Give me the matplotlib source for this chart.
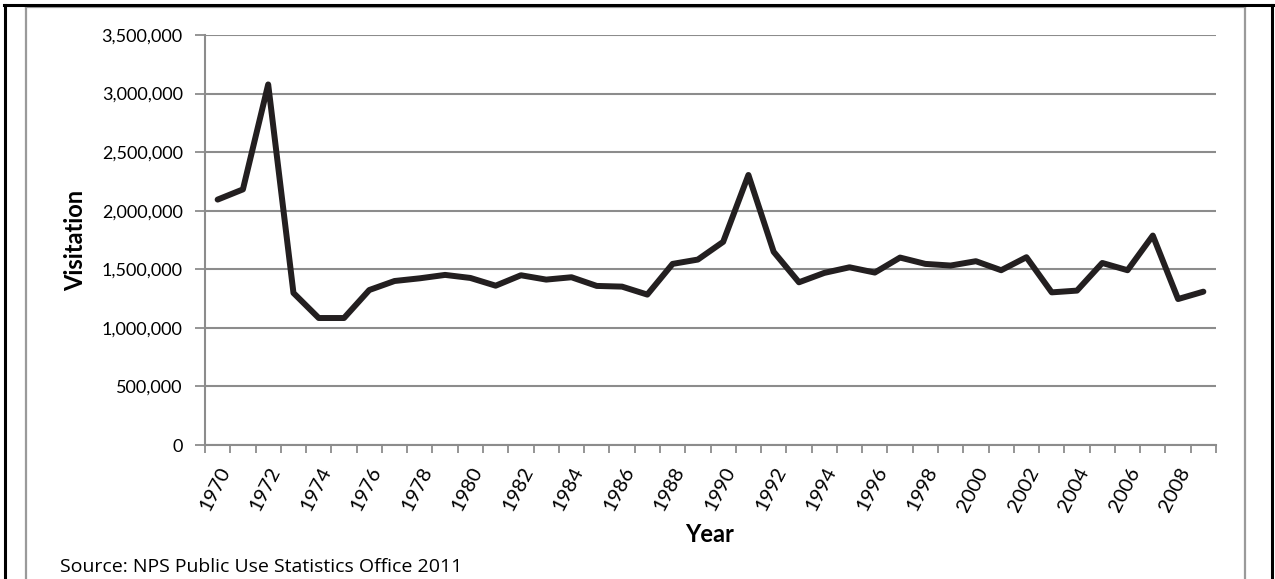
import matplotlib
matplotlib.use("Agg")
import matplotlib.pyplot as plt
from matplotlib.ticker import FuncFormatter, FixedLocator
from matplotlib.lines import Line2D

years = list(range(1970, 2010))
visitation = [2095000, 2182000, 3078000, 1298000, 1084000, 1084000, 1323000, 1400000,
              1423000, 1452000, 1426000, 1360000, 1449000, 1412000, 1432000, 1358000,
              1352000, 1284000, 1546000, 1583000, 1734000, 2305000, 1649000, 1389000,
              1469000, 1517000, 1472000, 1600000, 1546000, 1532000, 1569000, 1492000,
              1603000, 1303000, 1318000, 1554000, 1492000, 1788000, 1246000, 1309000]
y_ticks = [0, 500000, 1000000, 1500000, 2000000, 2500000, 3000000, 3500000]
x_label_years = years[::2]

W, H = 1275, 579
fig = plt.figure(figsize=(W / 100, H / 100), dpi=100)
ax = fig.add_axes([205 / W, 1 - 445 / H, (1216 - 205) / W, (445 - 35) / H])

grid_c = "#8c8c8c"
idx = list(range(len(years)))
ax.plot(idx, visitation, color="#231f20", lw=4.3, solid_joinstyle="round",
        solid_capstyle="round", zorder=3, clip_on=False)

ax.set_xlim(-0.5, len(years) - 0.5)
ax.set_ylim(0, 3500000)
ax.set_yticks(y_ticks)
ax.yaxis.set_major_formatter(FuncFormatter(lambda v, p: f"{int(v):,}"))
ax.grid(axis="y", color=grid_c, lw=1.5, zorder=1)
ax.set_axisbelow(True)

# category boundaries as tick marks, labels at even-year centres
ax.xaxis.set_major_locator(FixedLocator([i - 0.5 for i in range(len(years) + 1)]))
ax.xaxis.set_major_formatter(FuncFormatter(lambda v, p: ""))
ax.xaxis.set_minor_locator(FixedLocator([years.index(y) for y in x_label_years]))
ax.set_xticklabels([str(y) for y in x_label_years], minor=True)
ax.tick_params(axis="x", which="major", length=6, width=1.3, color=grid_c, direction="out")
ax.tick_params(axis="x", which="minor", length=0, pad=14)
for t in ax.get_xticklabels(minor=True):
    t.set_rotation(63)
    t.set_rotation_mode("anchor")
    t.set_ha("right")
    t.set_va("top")
    t.set_fontfamily("Lato")
    t.set_fontsize(14.5)
ax.tick_params(axis="y", length=7, width=1.3, color=grid_c, pad=9, labelsize=13)
for t in ax.get_yticklabels():
    t.set_fontfamily("Lato")

for s in ["top", "right"]:
    ax.spines[s].set_visible(False)
for s in ["left", "bottom"]:
    ax.spines[s].set_color(grid_c)
    ax.spines[s].set_linewidth(1.5)

fig.text(76 / W, 1 - 240 / H, "Visitation", rotation=90, ha="center", va="center",
         fontfamily="Lato", fontweight="bold", fontsize=17)
fig.text(710 / W, 1 - 534 / H, "Year", ha="center", va="center",
         fontfamily="Lato", fontweight="bold", fontsize=17)
fig.text(60 / W, 1 - 572 / H, "Source: NPS Public Use Statistics Office 2011",
         ha="left", va="baseline", fontfamily="Open Sans", fontsize=14)

# frame borders
def fx(x):
    return x / W
def fy(y):
    return 1 - y / H
fig.add_artist(Line2D([fx(26), fx(26)], [fy(6), fy(H + 5)], color="#9a9a9a", lw=1.6))
fig.add_artist(Line2D([fx(1245), fx(1245)], [fy(6), fy(H + 5)], color="#9a9a9a", lw=1.6))
fig.add_artist(Line2D([fx(26), fx(1245)], [fy(6.5), fy(6.5)], color="#9a9a9a", lw=1.6))
fig.add_artist(Line2D([fx(5), fx(5)], [fy(5), fy(H + 5)], color="black", lw=2.2))
fig.add_artist(Line2D([fx(1271.5), fx(1271.5)], [fy(5), fy(H + 5)], color="black", lw=2.2))
fig.add_artist(Line2D([fx(4), fx(1272.5)], [fy(5), fy(5)], color="black", lw=2.2))

fig.savefig("out.png", dpi=100)
